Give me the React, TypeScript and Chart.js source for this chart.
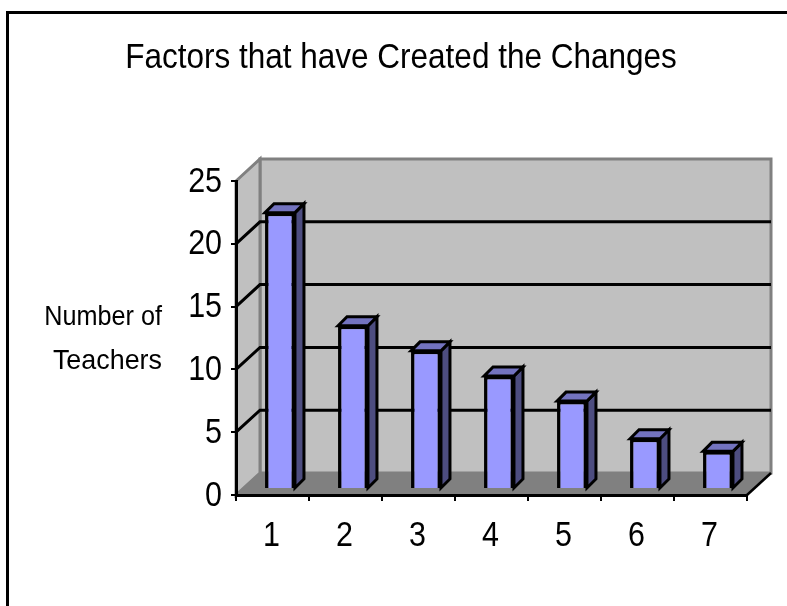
import React, { useEffect, useRef } from "react";
import { Chart, registerables } from "chart.js";

Chart.register(...registerables);

const categories = ["1", "2", "3", "4", "5", "6", "7"];
const teacherCounts = [22, 13, 11, 9, 7, 4, 3];
const titleText = "Factors that have Created the Changes";
const yTitleLines = ["Number of", "Teachers"];

const FONT = '"Liberation Sans", Arial, sans-serif';
const DEPTH_X = 24;
const DEPTH_Y = 22;
const BAR_DX = 7.5;
const BAR_DY = 6;
const SIDE_X = 9;
const SIDE_Y = 9;

const poly = (ctx: CanvasRenderingContext2D, pts: number[][], fill: string | null, stroke: string | null, lw = 1) => {
  ctx.beginPath();
  pts.forEach((p, i) => (i ? ctx.lineTo(p[0], p[1]) : ctx.moveTo(p[0], p[1])));
  ctx.closePath();
  if (fill) { ctx.fillStyle = fill; ctx.fill(); }
  if (stroke) { ctx.strokeStyle = stroke; ctx.lineWidth = lw; ctx.lineJoin = "miter"; ctx.stroke(); }
};

const squeezedText = (ctx: CanvasRenderingContext2D, text: string, x: number, y: number, size: number, sx: number, align: CanvasTextAlign = "center") => {
  ctx.save();
  ctx.fillStyle = "#000";
  ctx.font = `${size}px ${FONT}`;
  ctx.textAlign = align;
  ctx.textBaseline = "middle";
  ctx.translate(x, y);
  ctx.scale(sx, 1);
  ctx.fillText(text, 0, 0);
  ctx.restore();
};

const frame3d = {
  id: "frame3d",
  beforeDraw(chart: any) {
    const { ctx, chartArea: a, scales } = chart;
    ctx.save();
    ctx.strokeStyle = "#000";
    ctx.lineWidth = 3;
    ctx.strokeRect(7.5, 12.5, 860, 800);
    ctx.restore();
    const y0 = a.bottom, yT = a.top, l = a.left, r = a.right;
    ctx.save();
    poly(ctx, [[l + DEPTH_X, yT - DEPTH_Y], [r + DEPTH_X, yT - DEPTH_Y], [r + DEPTH_X, y0 - DEPTH_Y], [l + DEPTH_X, y0 - DEPTH_Y]], "#c0c0c0", "#808080", 3);
    poly(ctx, [[l, yT], [l + DEPTH_X, yT - DEPTH_Y], [l + DEPTH_X, y0 - DEPTH_Y], [l, y0]], "#c0c0c0", "#808080", 3);
    poly(ctx, [[l, y0], [l + DEPTH_X, y0 - DEPTH_Y], [r + DEPTH_X, y0 - DEPTH_Y], [r, y0]], "#808080", null);
    ctx.strokeStyle = "#000";
    ctx.lineWidth = 3;
    scales.y.ticks.forEach((t: any) => {
      if (t.value === 0 || t.value === 25) return;
      const y = scales.y.getPixelForValue(t.value);
      ctx.beginPath();
      ctx.moveTo(l, y);
      ctx.lineTo(l + DEPTH_X, y - DEPTH_Y);
      ctx.lineTo(r + DEPTH_X, y - DEPTH_Y);
      ctx.stroke();
    });
    ctx.lineWidth = 2.5;
    ctx.beginPath();
    ctx.moveTo(r, y0);
    ctx.lineTo(r + DEPTH_X, y0 - DEPTH_Y);
    ctx.stroke();
    ctx.restore();
  },
  beforeDatasetsDraw(chart: any) {
    const { ctx } = chart;
    ctx.save();
    ctx.translate(BAR_DX, -BAR_DY);
    chart.getDatasetMeta(0).data.forEach((bar: any) => {
      const L = bar.x - bar.width / 2, R = bar.x + bar.width / 2;
      const T = bar.y, B = bar.base;
      poly(ctx, [[R, T], [R + SIDE_X, T - SIDE_Y], [R + SIDE_X, B - SIDE_Y], [R, B]], "#4d4d80", "#000", 3);
      poly(ctx, [[L, T], [L + SIDE_X, T - SIDE_Y], [R + SIDE_X, T - SIDE_Y], [R, T]], "#7373bf", "#000", 3);
    });
  },
  afterDatasetsDraw(chart: any) {
    const { ctx, scales, chartArea: a } = chart;
    ctx.restore();
    squeezedText(ctx, titleText, 401, 58, 35, 0.9);
    yTitleLines.forEach((line, i) => squeezedText(ctx, line, 162, 317 + i * 44, 28, i ? 0.96 : 0.9, "right"));
    scales.y.ticks.forEach((t: any) => {
      squeezedText(ctx, String(t.value), a.left - 14, scales.y.getPixelForValue(t.value) + 1, 35, 0.87, "right");
    });
    categories.forEach((c, i) => {
      squeezedText(ctx, c, scales.x.getPixelForValue(i) - 1, a.bottom + 41, 35, 0.87);
    });
  },
};

export default function App() {
  const ref = useRef<HTMLCanvasElement>(null);
  useEffect(() => {
    const chart = new Chart(ref.current!, {
      type: "bar",
      data: {
        labels: categories,
        datasets: [{
          data: teacherCounts,
          backgroundColor: "#9999ff",
          borderColor: "#000",
          borderWidth: 3.5,
          barPercentage: 0.82,
          categoryPercentage: 0.5,
        }],
      },
      options: {
        responsive: false,
        animation: false,
        layout: { padding: { left: 0, right: 40, top: 181, bottom: 0 } },
        plugins: {
          legend: { display: false },
          tooltip: { enabled: false },
          title: { display: false },
        },
        scales: {
          x: {
            afterFit: (s: any) => { s.height = 111; },
            grid: { display: true, drawOnChartArea: false, drawTicks: true, tickLength: 6, color: "#000", lineWidth: 2, offset: true },
            border: { display: true, color: "#000", width: 3 },
            ticks: { display: false },
          },
          y: {
            min: 0,
            max: 25,
            afterFit: (s: any) => { s.width = 236; },
            grid: { display: true, drawOnChartArea: false, drawTicks: true, tickLength: 5, color: "#000", lineWidth: 2 },
            border: { display: true, color: "#000", width: 3 },
            ticks: { stepSize: 5, display: false },
          },
        },
      },
      plugins: [frame3d],
    } as any);
    return () => chart.destroy();
  }, []);
  return <canvas ref={ref} width={787} height={606} style={{ position: "fixed", left: 0, top: 0, display: "block" }} />;
}
